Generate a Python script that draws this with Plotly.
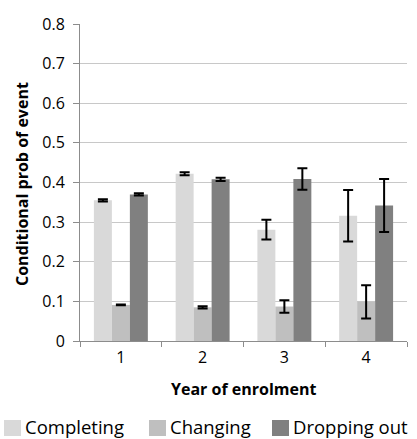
import plotly.graph_objects as go

years = ["1", "2", "3", "4"]
series_names = ["Completing", "Changing", "Dropping out"]
completing = [0.355, 0.422, 0.281, 0.316]
completing_err = [0.003, 0.004, 0.025, 0.065]
changing = [0.091, 0.085, 0.087, 0.099]
changing_err = [0.001, 0.003, 0.016, 0.042]
dropping = [0.370, 0.408, 0.409, 0.342]
dropping_err = [0.003, 0.004, 0.027, 0.067]
colors = ["#d9d9d9", "#bfbfbf", "#808080"]
x_title = "Year of enrolment"
y_title = "Conditional prob of event"

FONT = "Open Sans"
L, R, T, B = 80, 10, 24, 98
W, H = 417, 439
PW, PH = W - L - R, H - T - B


def px_x(x):
    return (x - L) / PW


def px_y(y):
    return (H - B - y) / PH


fig = go.Figure()
for name, vals, errs, col in zip(series_names, [completing, changing, dropping],
                                 [completing_err, changing_err, dropping_err], colors):
    fig.add_trace(go.Bar(
        x=years, y=vals, name=name, marker=dict(color=col, line=dict(width=0)),
        error_y=dict(type="data", array=errs, visible=True, color="black",
                     thickness=2, width=5),
        showlegend=False, hoverinfo="y+name",
    ))

# custom legend (Excel-style large squares)
legend_x = [4, 149, 272]
for nm, col, lx in zip(series_names, colors, legend_x):
    fig.add_shape(type="rect", xref="paper", yref="paper",
                  x0=px_x(lx), x1=px_x(lx + 17),
                  y0=px_y(420), y1=px_y(436),
                  fillcolor=col, line=dict(width=0))
    fig.add_annotation(text=nm, xref="paper", yref="paper",
                       x=px_x(lx + 19), y=px_y(426.5),
                       xanchor="left", yanchor="middle", showarrow=False,
                       font=dict(family=FONT, size=18.5, color="black"))

# axis titles
fig.add_annotation(text="<b>" + x_title + "</b>", xref="paper", yref="paper",
                   x=px_x(243), y=px_y(389), xanchor="center", yanchor="middle",
                   showarrow=False, font=dict(family=FONT, size=16, color="black"))
fig.add_annotation(text="<b>" + y_title + "</b>", xref="paper", yref="paper",
                   x=px_x(22), y=px_y(184), xanchor="center", yanchor="middle",
                   textangle=-90, showarrow=False,
                   font=dict(family=FONT, size=16, color="black"))

fig.update_layout(
    width=W, height=H,
    margin=dict(l=L, r=R, t=T, b=B),
    paper_bgcolor="white", plot_bgcolor="white",
    barmode="group", bargap=0.34, bargroupgap=0,
    font=dict(family=FONT, color="black"),
    xaxis=dict(type="category", showline=True, linecolor="#8c8c8c", linewidth=1,
               ticks="outside", tickson="boundaries", ticklen=5, tickcolor="#8c8c8c",
               tickfont=dict(size=16), showgrid=False, automargin=False,
               ticklabelstandoff=2),
    yaxis=dict(range=[0, 0.8], dtick=0.1, tickformat="~g", showline=True,
               linecolor="#8c8c8c", linewidth=1, ticks="outside", ticklen=6,
               tickcolor="#8c8c8c", gridcolor="#c8c8c8", gridwidth=1,
               tickfont=dict(size=16), zeroline=False, automargin=False,
               ticklabelstandoff=5),
)
fig.write_html("out.html", config={"displayModeBar": False},
               post_script="document.body.style.margin='0px';")
